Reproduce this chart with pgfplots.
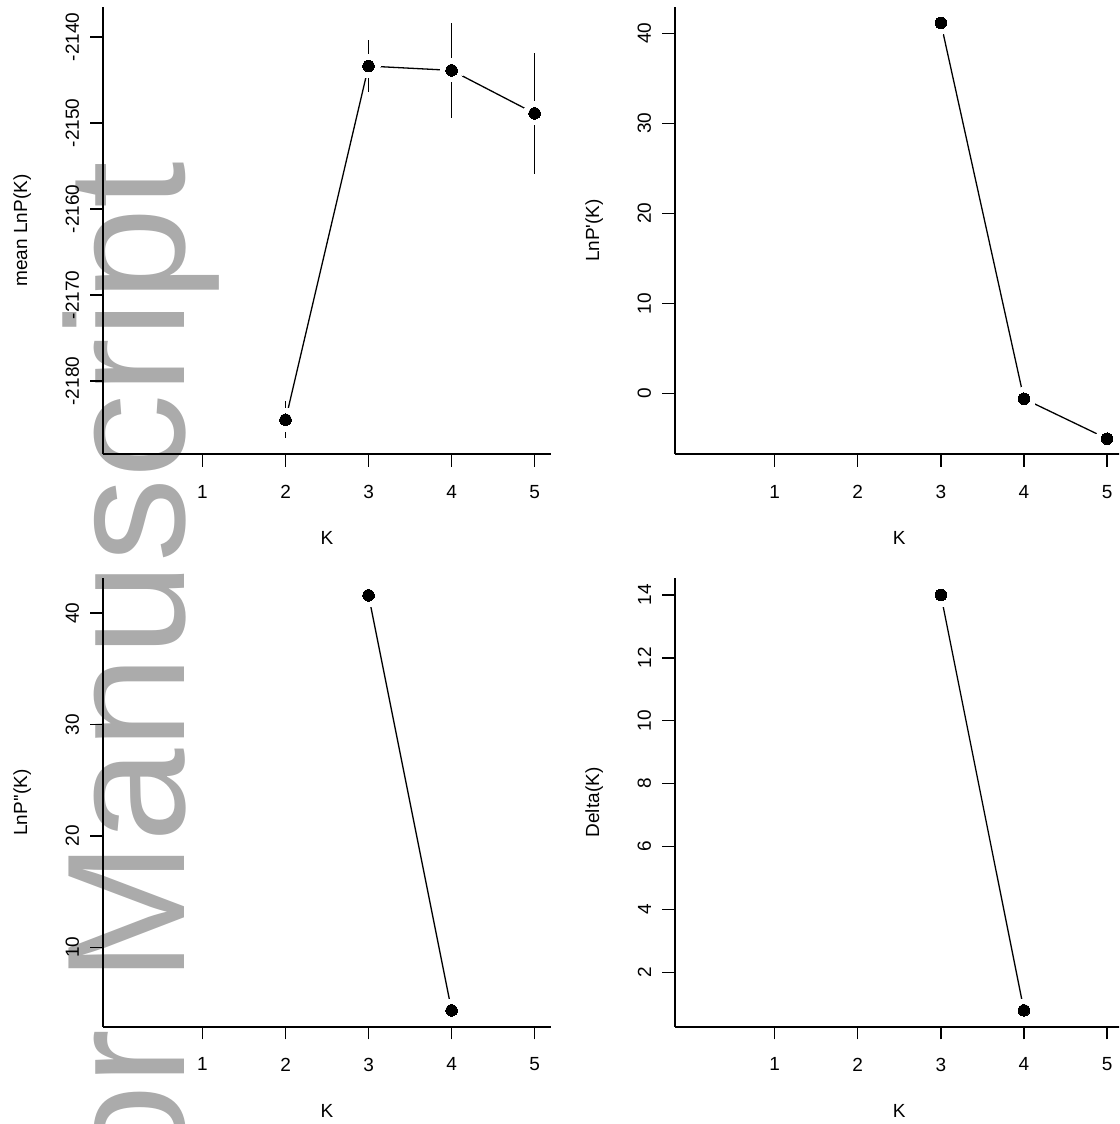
\documentclass[border=0pt]{standalone}
\usepackage{fontspec}
\usepackage{pgfplots}
\pgfplotsset{compat=1.18}
\newfontfamily\arialf{Liberation Sans}
\newcommand\lab{\arialf\fontsize{19}{22}\selectfont}
\definecolor{wm}{RGB}{171,171,171}
\pgfplotsset{
  rpanel/.style={
    scale only axis,
    anchor=south west,
    axis x line*=bottom, axis y line*=left,
    axis line style={line width=1.4pt, black, -},
    every tick/.style={line width=1.4pt, black},
    tick align=outside, major tick length=12.5pt,
    xmin=-0.2, xmax=5.2, xtick={1,2,3,4,5}, xticklabels={1,2,3,4,5},
    tick label style={font=\lab},
    xticklabel style={anchor=north, inner sep=0pt},
    yticklabel style={rotate=90, anchor=south, inner sep=0pt},
    xticklabel shift=18.3pt,
    yticklabel shift=11.1pt,
    every axis y label/.style={at={(axis description cs:-0.18,0.5)}, rotate=90, anchor=center, inner sep=0pt, font=\lab},
    every axis x label/.style={at={(axis description cs:0.5,-0.187)}, anchor=center, inner sep=0pt, font=\lab},
    xlabel={K},
    clip=false,
  },
  dline/.style={line width=1.3pt, black, mark=none},
  gap/.style={only marks, white, mark=*, mark size=11.5pt, mark options={fill=white, draw=white, line width=0pt}},
  dot/.style={only marks, mark=*, mark size=5.8pt, black, mark options={fill=black, draw=black, line width=0pt}},
}
\begin{document}
\begin{tikzpicture}
\useasboundingbox (0,0) rectangle (1119pt,1124pt);
\clip (0,0) rectangle (1119pt,1124pt);
\node[rotate=90, anchor=base east, inner sep=0pt, text=wm, font=\arialf\fontsize{168}{170}\selectfont] at (184pt,963.1pt) {Author Manuscript};

% Panel 1: mean LnP(K)
\begin{axis}[rpanel, at={(102.9pt,669.8pt)}, width=448.3pt, height=447.5pt,
  ymin=-2188.5, ymax=-2136.5,
  ytick={-2180,-2170,-2160,-2150,-2140}, yticklabels={-2180,-2170,-2160,-2150,-2140},
  ylabel={mean LnP(K)}]
\addplot[dline] coordinates {(2,-2184.5) (3,-2143.4) (4,-2143.9) (5,-2148.9)};
\addplot[gap] coordinates {(2,-2184.5) (3,-2143.4) (4,-2143.9) (5,-2148.9)};
\addplot[draw=none, mark=none, error bars/.cd, y dir=both, y explicit, error mark=none,
  error bar style={draw=black, solid, line width=1.3pt}]
  coordinates {(2,-2184.5) +- (0,2.15) (3,-2143.4) +- (0,3.05) (4,-2143.9) +- (0,5.55) (5,-2148.9) +- (0,7.0)};
\addplot[dot] coordinates {(2,-2184.5) (3,-2143.4) (4,-2143.9) (5,-2148.9)};
\end{axis}

% Panel 2: LnP'(K)
\begin{axis}[rpanel, at={(674.9pt,669.8pt)}, width=448.8pt, height=447.5pt,
  ymin=-6.73, ymax=42.95,
  ytick={0,10,20,30,40}, yticklabels={0,10,20,30,40},
  ylabel={LnP'(K)}]
\addplot[dline] coordinates {(3,41.15) (4,-0.58) (5,-5.01)};
\addplot[gap] coordinates {(3,41.15) (4,-0.58) (5,-5.01)};
\addplot[dot] coordinates {(3,41.15) (4,-0.58) (5,-5.01)};
\end{axis}

% Panel 3: LnP''(K)
\begin{axis}[rpanel, at={(102.9pt,97.1pt)}, width=448.3pt, height=448.9pt,
  ymin=2.86, ymax=43.16,
  ytick={10,20,30,40}, yticklabels={10,20,30,40},
  ylabel={LnP''(K)}]
\addplot[dline] coordinates {(3,41.6) (4,4.34)};
\addplot[gap] coordinates {(3,41.6) (4,4.34)};
\addplot[dot] coordinates {(3,41.6) (4,4.34)};
\end{axis}

% Panel 4: Delta(K)
\begin{axis}[rpanel, at={(674.9pt,97.1pt)}, width=448.8pt, height=448.9pt,
  ymin=0.26, ymax=14.54,
  ytick={2,4,6,8,10,12,14}, yticklabels={2,4,6,8,10,12,14},
  ylabel={Delta(K)}]
\addplot[dline] coordinates {(3,14.0) (4,0.785)};
\addplot[gap] coordinates {(3,14.0) (4,0.785)};
\addplot[dot] coordinates {(3,14.0) (4,0.785)};
\end{axis}
\end{tikzpicture}
\end{document}
